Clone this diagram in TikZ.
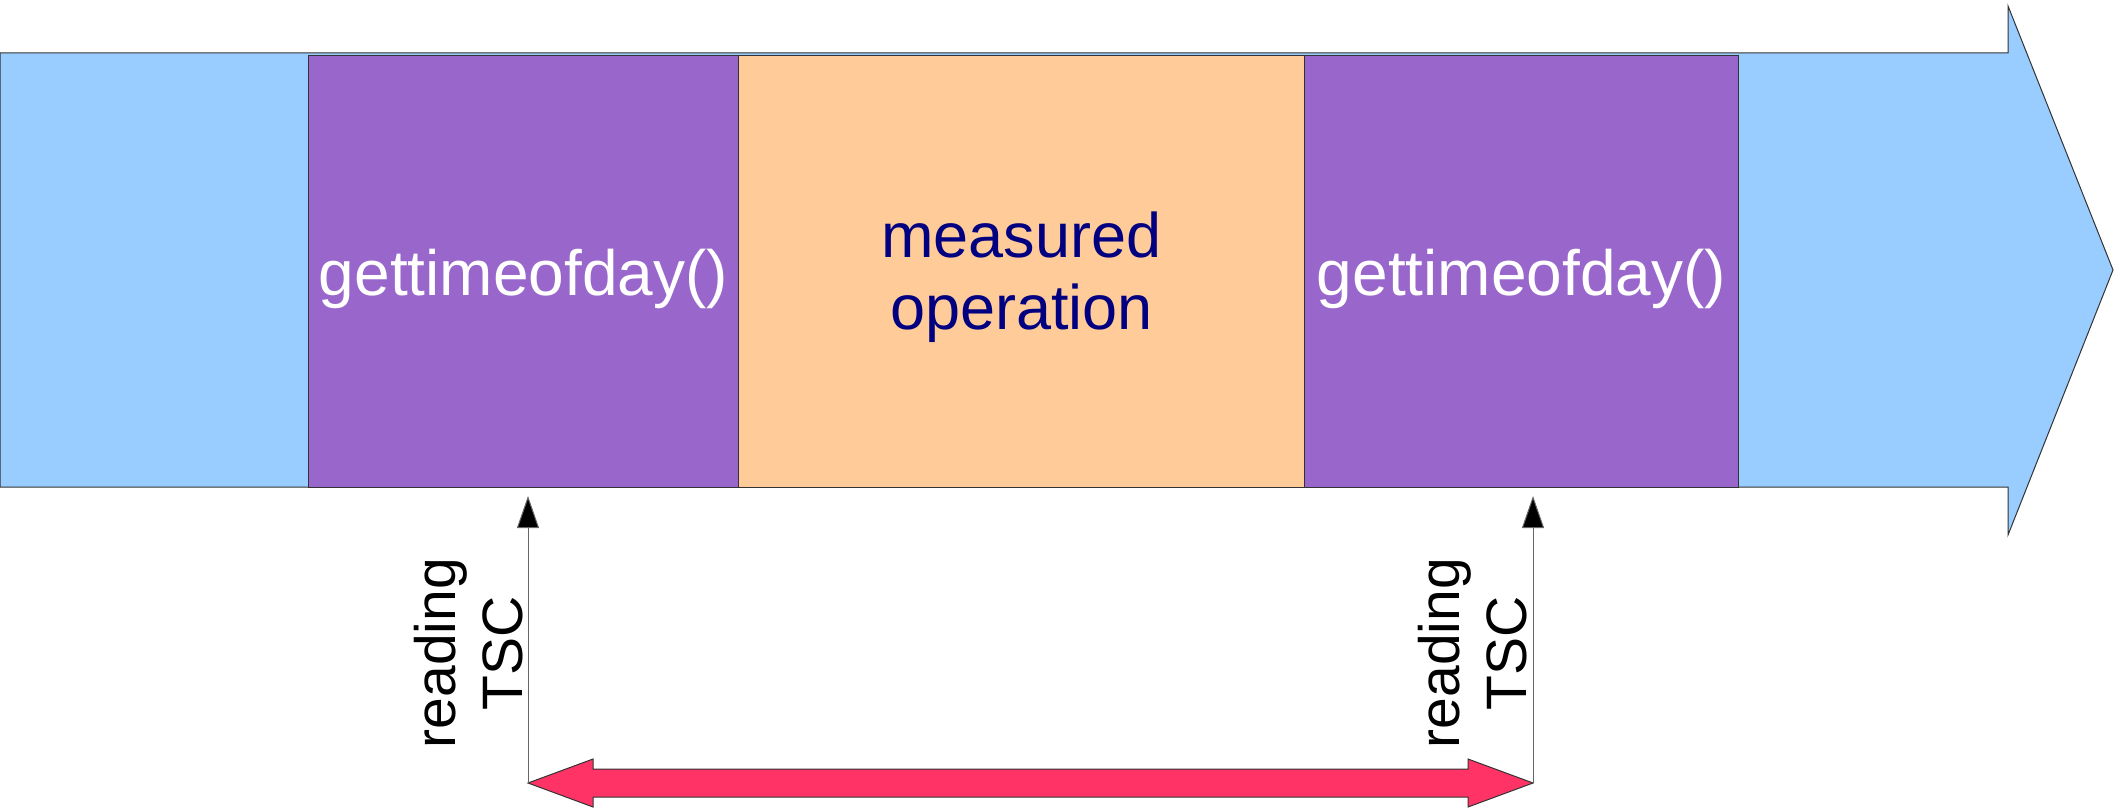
\documentclass[tikz,border=0pt]{standalone}
\usepackage{fontspec}
\setmainfont{Liberation Sans}
\usetikzlibrary{arrows.meta}
\definecolor{lblue}{HTML}{99CCFF}
\definecolor{lpurple}{HTML}{9966CC}
\definecolor{lorange}{HTML}{FFCC99}
\definecolor{navytext}{HTML}{000080}
\definecolor{pinkred}{HTML}{FF3366}
\definecolor{edgec}{HTML}{333333}
\begin{document}
\begin{tikzpicture}[x=0.5pt,y=-0.5pt,
 box/.style={draw=edgec, line width=0.5pt, anchor=north west, inner sep=0pt, minimum height=216pt},
 callbox/.style={box, fill=lpurple},
 opbox/.style={box, fill=lorange},
 calltext/.style={inner sep=0pt, text=white, font=\fontsize{32}{38}\selectfont},
 optext/.style={inner sep=0pt, text=navytext, align=center, font=\fontsize{31.5}{36}\selectfont},
 lbl/.style={rotate=90, align=center, inner sep=0pt, font=\fontsize{28.5}{33.5}\selectfont},
 tick/.style={draw=black!60, line width=0.5pt, -{Triangle[length=16pt,width=11pt,fill=black]}},
 span/.style={fill=pinkred, draw=edgec, line width=0.5pt}
]
\useasboundingbox (0,0) rectangle (2115,808);
% timeline arrow
\draw[fill=lblue, draw=edgec, line width=0.5pt]
  (0,53) -- (2008,53) -- (2008,6) -- (2113,270) -- (2008,535) -- (2008,487) -- (0,487) -- cycle;
% boxes
\node[callbox, minimum width=215pt] (p1) at (308,55) {};
\node[opbox, minimum width=283pt] (op) at (738,55) {};
\node[callbox, minimum width=217pt] (p2) at (1304,55) {};
\node[calltext] (g1) at ([yshift=-3.5pt]p1.center) {gettimeofday()};
\node[optext] (m) at ([yshift=-3pt]op.center) {measured\\operation};
\node[calltext] (g2) at ([yshift=-3.5pt]p2.center) {gettimeofday()};
% feet and tips
\coordinate (f1) at (528,783);
\coordinate (f2) at (1533,783);
\coordinate (t1) at (528,496);
\coordinate (t2) at (1533,496);
% double arrow
\draw[span] (f1) -- ++(65,-24) -- ++(0,10) -- ([shift={(-65,-14)}]f2) -- ++(0,-10) -- (f2)
  -- ++(-65,24) -- ++(0,-10) -- ([shift={(65,14)}]f1) -- ++(0,10) -- cycle;
% reading arrows
\draw[tick] (f1) -- (t1);
\draw[tick] (f2) -- (t2);
\node[lbl] (r1) at (469,653) {reading\\TSC};
\node[lbl] (r2) at (1473,653) {reading\\TSC};
\end{tikzpicture}
\end{document}
